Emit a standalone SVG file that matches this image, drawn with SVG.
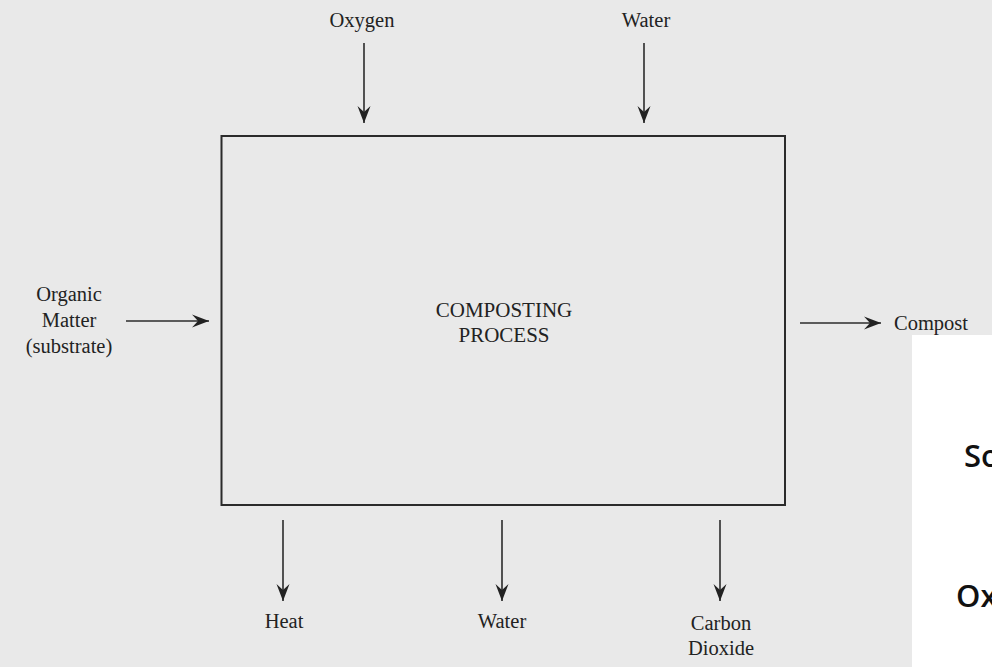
<svg xmlns="http://www.w3.org/2000/svg" width="992" height="667" viewBox="0 0 992 667">
<style>
.lbl{font-family:"Liberation Serif","Times New Roman",serif;font-size:20.5px;fill:#222;text-anchor:middle}
.conn line{stroke:#2b2b2b;stroke-width:1.6;fill:none}
.box{fill:none;stroke:#2b2b2b;stroke-width:2}
.cut{font-family:"Open Sans","Liberation Sans",sans-serif;font-weight:600;font-size:31px;fill:#111}
</style>
<defs>
<marker id="ah" viewBox="-17 -7 18 14" markerWidth="18" markerHeight="14" refX="0" refY="0" orient="auto" markerUnits="userSpaceOnUse">
<path d="M0,0 L-17,-6.5 L-11,0 L-17,6.5 Z" fill="#222"/>
</marker>
</defs>
<rect x="0" y="0" width="992" height="667" fill="#e9e9e9"/>
<rect x="912" y="335" width="80" height="332" fill="#ffffff"/>

<g id="process">
<rect class="box" x="221.5" y="136" width="563.5" height="369"/>
<text class="lbl" style="font-size:21px" x="504" y="317">COMPOSTING</text>
<text class="lbl" style="font-size:21px" x="504" y="342">PROCESS</text>
</g>
<g id="oxygen"><text class="lbl" x="362" y="27">Oxygen</text></g>
<g id="water-in"><text class="lbl" x="646" y="27">Water</text></g>
<g id="organic">
<text class="lbl" x="69" y="301">Organic</text>
<text class="lbl" x="69" y="327">Matter</text>
<text class="lbl" x="69" y="353">(substrate)</text>
</g>
<g id="compost"><text class="lbl" style="text-anchor:start" x="894" y="330">Compost</text></g>
<g id="heat"><text class="lbl" x="284" y="628">Heat</text></g>
<g id="water-out"><text class="lbl" x="502" y="628">Water</text></g>
<g id="co2">
<text class="lbl" x="721" y="630">Carbon</text>
<text class="lbl" x="721" y="655">Dioxide</text>
</g>

<g class="conn" id="connectors">
<line x1="364" y1="43" x2="364" y2="123" marker-end="url(#ah)"/>
<line x1="644" y1="43" x2="644" y2="123" marker-end="url(#ah)"/>
<line x1="126" y1="321" x2="209" y2="321" marker-end="url(#ah)"/>
<line x1="800" y1="323" x2="881" y2="323" marker-end="url(#ah)"/>
<line x1="283" y1="520" x2="283" y2="601" marker-end="url(#ah)"/>
<line x1="502" y1="520" x2="502" y2="601" marker-end="url(#ah)"/>
<line x1="720" y1="520" x2="720" y2="601" marker-end="url(#ah)"/>
</g>

<text class="cut" x="964" y="467">So</text>
<text class="cut" x="956" y="607">Ox</text>
</svg>
